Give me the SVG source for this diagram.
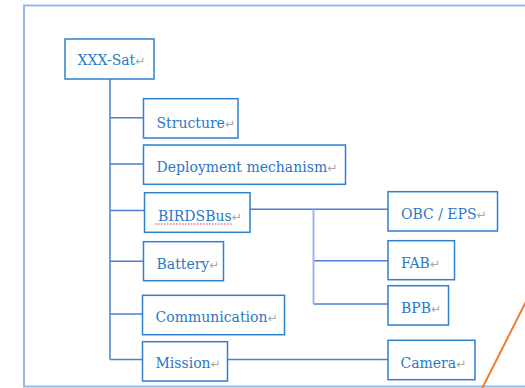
<svg xmlns="http://www.w3.org/2000/svg" width="525" height="388" viewBox="0 0 525 388">
<style>
.box{fill:#fff;stroke:#2e80d0;stroke-width:1.5}
.lbl{font-family:"DejaVu Serif","Liberation Serif",serif;font-size:14px;fill:#2a78c8}
.ret{font-family:"DejaVu Sans",sans-serif;font-size:12px;fill:#a6a6a6}
.con{stroke:#4f7fd0;stroke-width:1.5;fill:none}
.con2{stroke:#9fb6e3;stroke-width:2;fill:none}
</style>
<rect x="24" y="5.5" width="520" height="381" fill="#fff" stroke="#95bce4" stroke-width="2"/>
<g id="connectors">
<path class="con" d="M110 79 V359.5 M110 117.7 H143.5 M110 164 H143.5 M110 210.5 H144.5 M110 261.3 H143.5 M110 314 H142.5 M110 359.5 H142.5 M227.5 359.5 H388 M250 209.3 H388 M313.5 260.7 H388 M313.5 304 H388"/>
<path class="con2" d="M313.5 209.3 V304"/>
</g>
<g id="xxx-sat"><rect class="box" x="65" y="39" width="89" height="40"/><text class="lbl" x="77.5" y="64.5">XXX-Sat<tspan class="ret">↵</tspan></text></g>
<g id="structure"><rect class="box" x="143.5" y="98.7" width="94.5" height="39.3"/><text class="lbl" x="156.5" y="127.5">Structure<tspan class="ret">↵</tspan></text></g>
<g id="deployment"><rect class="box" x="143.5" y="145" width="202" height="39.3"/><text class="lbl" x="156.5" y="171.7">Deployment mechanism<tspan class="ret">↵</tspan></text></g>
<g id="birdsbus"><rect class="box" x="144.5" y="192.7" width="105.5" height="39.6"/><text class="lbl" x="158" y="221">BIRDSBus<tspan class="ret">↵</tspan></text><line x1="155" y1="224" x2="233" y2="224" stroke="#e0302a" stroke-width="1" stroke-dasharray="1.5,1.5"/></g>
<g id="battery"><rect class="box" x="143.5" y="241.7" width="80" height="39"/><text class="lbl" x="156.5" y="269.3">Battery<tspan class="ret">↵</tspan></text></g>
<g id="communication"><rect class="box" x="142.5" y="295.3" width="142" height="39.4"/><text class="lbl" x="155.5" y="322.3">Communication<tspan class="ret">↵</tspan></text></g>
<g id="mission"><rect class="box" x="142.5" y="341.7" width="85" height="39.3"/><text class="lbl" x="155.5" y="368.3">Mission<tspan class="ret">↵</tspan></text></g>
<g id="obc-eps"><rect class="box" x="388" y="191.7" width="109.5" height="39.3"/><text class="lbl" x="401" y="219.3">OBC / EPS<tspan class="ret">↵</tspan></text></g>
<g id="fab"><rect class="box" x="388" y="240.7" width="66.5" height="39"/><text class="lbl" x="401" y="268.3">FAB<tspan class="ret">↵</tspan></text></g>
<g id="bpb"><rect class="box" x="388" y="285.7" width="60.5" height="39.3"/><text class="lbl" x="401" y="313.3">BPB<tspan class="ret">↵</tspan></text></g>
<g id="camera"><rect class="box" x="388" y="340.3" width="87" height="39.4"/><text class="lbl" x="400.5" y="368.3">Camera<tspan class="ret">↵</tspan></text></g>
<line x1="481.8" y1="389" x2="527" y2="299.5" stroke="#ed7d31" stroke-width="2"/>
</svg>
